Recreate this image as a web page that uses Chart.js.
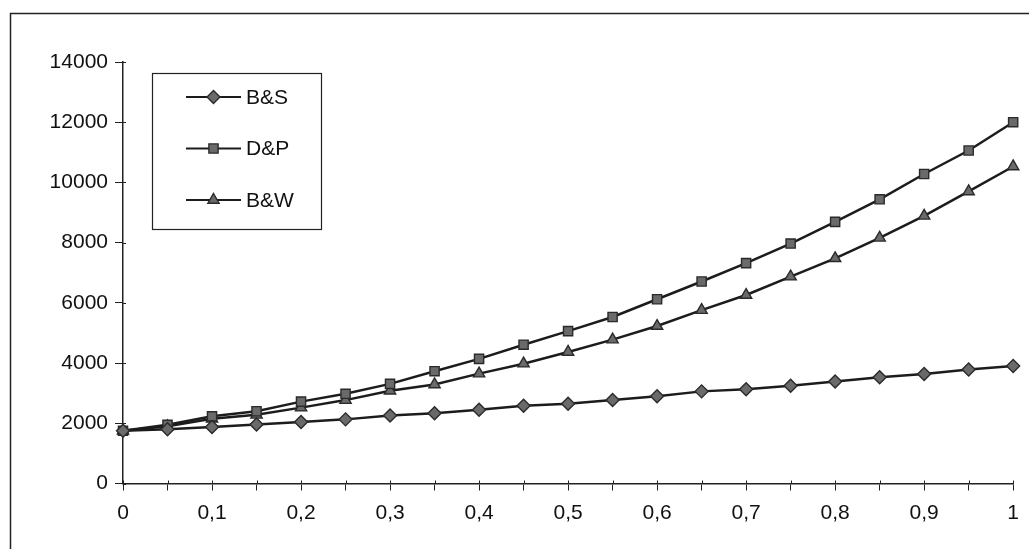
<!DOCTYPE html>
<html>
<head>
<meta charset="utf-8">
<script src="https://cdn.jsdelivr.net/npm/chart.js@4/dist/chart.umd.min.js"></script>
<style>
  html, body { margin: 0; padding: 0; background: #fff; }
  #wrap { width: 1029px; height: 549px; }
</style>
</head>
<body>
<div id="wrap"><canvas id="chart"></canvas></div>
<script>
// x values (0 .. 1 step 0.05)
var xValues = [0, 0.05, 0.1, 0.15, 0.2, 0.25, 0.3, 0.35, 0.4, 0.45, 0.5,
               0.55, 0.6, 0.65, 0.7, 0.75, 0.8, 0.85, 0.9, 0.95, 1]
var seriesNames = ['B&S', 'D&P', 'B&W']
var bsValues = [1750, 1800, 1880, 1960, 2040, 2130, 2260, 2330, 2450, 2580, 2650,
                2770, 2900, 3060, 3130, 3250, 3390, 3530, 3640, 3790, 3900]
var dpValues = [1750, 1950, 2230, 2400, 2720, 2980, 3310, 3730, 4140, 4610, 5060,
                5530, 6120, 6710, 7320, 7970, 8690, 9440, 10280, 11060, 12000]
var bwValues = [1750, 1900, 2150, 2280, 2520, 2770, 3080, 3290, 3650, 3980, 4370,
                4780, 5230, 5760, 6260, 6870, 7480, 8160, 8890, 9700, 10530]
var yTicks = [0, 2000, 4000, 6000, 8000, 10000, 12000, 14000]

var FONT = { family: "'Liberation Sans', Arial, sans-serif", size: 21 }
var INK = '#111'
var FILL = '#6a6a6a'

function toPoints(vals) {
    return vals.map(function (v, i) { return { x: xValues[i], y: v } })
}

function makeSet(label, vals, style) {
    return {
        label: label,
        data: toPoints(vals),
        borderColor: '#1c1c1c',
        borderWidth: 2.5,
        pointStyle: style,
        pointRadius: 6.5,
        pointHoverRadius: 6.5,
        pointBackgroundColor: FILL,
        pointBorderColor: '#2a2a2a',
        pointBorderWidth: 1.4,
        tension: 0,
        clip: false
    }
}

// page frame (left and top edges of the scanned box)
var framePlugin = {
    id: 'frame',
    beforeDraw: function (chart) {
        var ctx = chart.ctx
        ctx.save()
        ctx.fillStyle = '#fff'
        ctx.fillRect(0, 0, chart.width, chart.height)
        ctx.strokeStyle = '#222'
        ctx.lineWidth = 1.5
        ctx.beginPath()
        ctx.moveTo(10.5, chart.height + 5)
        ctx.lineTo(10.5, 13.5)
        ctx.lineTo(chart.width + 5, 13.5)
        ctx.stroke()
        ctx.restore()
    },
    // small tick stubs crossing the axes, as in the scan
    afterDatasetsDraw: function (chart) {
        var ctx = chart.ctx
        var xs = chart.scales.x, ys = chart.scales.y
        ctx.save()
        ctx.strokeStyle = '#222'
        ctx.lineWidth = 1
        ctx.beginPath()
        xs.ticks.forEach(function (t) {
            var px = Math.round(xs.getPixelForValue(t.value)) + 0.5
            ctx.moveTo(px, ys.bottom)
            ctx.lineTo(px, ys.bottom - 3)
        })
        ys.ticks.forEach(function (t) {
            var py = Math.round(ys.getPixelForValue(t.value)) + 0.5
            ctx.moveTo(xs.left, py)
            ctx.lineTo(xs.left + 3, py)
        })
        ctx.stroke()
        ctx.restore()
    }
}

// boxed legend inside the plot, like the original
var boxLegend = {
    id: 'boxLegend',
    afterDraw: function (chart) {
        var ctx = chart.ctx
        ctx.save()
        ctx.fillStyle = '#fff'
        ctx.fillRect(152.5, 73.5, 169, 156)
        ctx.strokeStyle = '#222'
        ctx.lineWidth = 1.2
        ctx.strokeRect(152.5, 73.5, 169, 156)
        chart.data.datasets.forEach(function (ds, i) {
            var y = 97 + i * 51.5
            ctx.strokeStyle = '#1c1c1c'
            ctx.lineWidth = 2
            ctx.beginPath()
            ctx.moveTo(186, y)
            ctx.lineTo(241, y)
            ctx.stroke()
            ctx.fillStyle = FILL
            ctx.strokeStyle = '#2a2a2a'
            ctx.lineWidth = 1.4
            Chart.helpers.drawPoint(ctx, { pointStyle: ds.pointStyle, radius: 6.5, rotation: 0, borderWidth: 1.4 }, 213.5, y)
            ctx.fillStyle = INK
            ctx.font = FONT.size + 'px ' + FONT.family
            ctx.textBaseline = 'middle'
            ctx.textAlign = 'left'
            ctx.fillText(ds.label, 246, y + 1)
        })
        ctx.restore()
    }
}

var ctx = document.getElementById('chart').getContext('2d')
var myChart = new Chart(ctx, {
    type: 'line',
    data: {
        datasets: [
            makeSet(seriesNames[0], bsValues, 'rectRot'),
            makeSet(seriesNames[1], dpValues, 'rect'),
            makeSet(seriesNames[2], bwValues, 'triangle')
        ]
    },
    options: {
        responsive: true,
        maintainAspectRatio: false,
        animation: false,
        events: [],
        layout: { padding: { top: 62, right: 14, left: 0, bottom: 0 } },
        plugins: {
            legend: { display: false },
            tooltip: { enabled: false }
        },
        scales: {
            x: {
                type: 'linear',
                min: 0,
                max: 1,
                afterFit: function (scale) { scale.height = 65.5 },
                afterBuildTicks: function (scale) {
                    scale.ticks = xValues.map(function (v) { return { value: v } })
                },
                ticks: {
                    autoSkip: false,
                    maxRotation: 0,
                    color: INK,
                    font: FONT,
                    padding: 10,
                    callback: function (v) {
                        var k = Math.round(v * 20)
                        if (k % 2 !== 0) return ''
                        return String(k / 20).replace('.', ',')
                    }
                },
                grid: {
                    drawOnChartArea: false,
                    drawTicks: true,
                    tickLength: 7,
                    color: '#222'
                },
                border: { color: '#222', width: 1.5 }
            },
            y: {
                min: 0,
                max: 14000,
                afterFit: function (scale) { scale.width = 123 },
                afterBuildTicks: function (scale) {
                    scale.ticks = yTicks.map(function (v) { return { value: v } })
                },
                ticks: {
                    color: INK,
                    font: FONT,
                    padding: 7,
                    callback: function (v) { return String(v) }
                },
                grid: {
                    drawOnChartArea: false,
                    drawTicks: true,
                    tickLength: 8,
                    color: '#222'
                },
                border: { color: '#222', width: 1.5 }
            }
        }
    },
    plugins: [framePlugin, boxLegend]
})
</script>
</body>
</html>
